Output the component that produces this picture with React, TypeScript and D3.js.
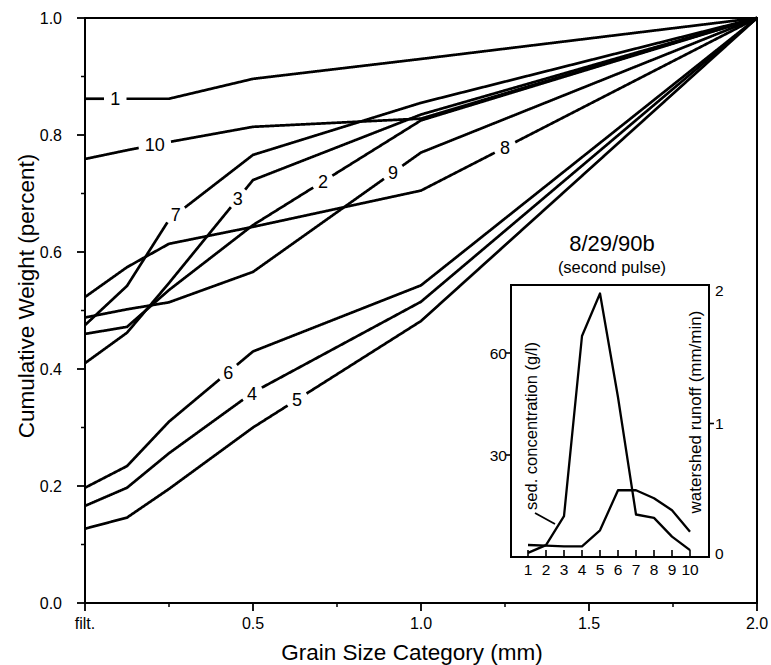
import React from 'react';
import * as d3 from 'd3';

// ---------- main chart data ----------
const grainSizes = [0, 0.125, 0.25, 0.5, 1.0, 2.0];
const sampleNames = ['1', '2', '3', '4', '5', '6', '7', '8', '9', '10'];
const sample1 = [0.862, 0.862, 0.862, 0.896, 0.93, 1.0];
const sample2 = [0.46, 0.472, 0.535, 0.646, 0.825, 1.0];
const sample3 = [0.41, 0.462, 0.547, 0.723, 0.835, 1.0];
const sample4 = [0.166, 0.197, 0.256, 0.36, 0.515, 1.0];
const sample5 = [0.127, 0.146, 0.195, 0.3, 0.482, 1.0];
const sample6 = [0.197, 0.234, 0.31, 0.43, 0.543, 1.0];
const sample7 = [0.475, 0.542, 0.655, 0.766, 0.855, 1.0];
const sample8 = [0.523, 0.574, 0.614, 0.643, 0.705, 1.0];
const sample9 = [0.488, 0.502, 0.514, 0.566, 0.77, 1.0];
const sample10 = [0.759, 0.774, 0.788, 0.814, 0.828, 1.0];
const samples = [sample1, sample2, sample3, sample4, sample5, sample6, sample7, sample8, sample9, sample10];
// grain size (x) at which each curve label sits
const labelAt = [0.09, 0.708, 0.455, 0.497, 0.631, 0.426, 0.27, 1.25, 0.917, 0.208];

const xMajor = [0, 0.5, 1, 1.5, 2];
const xMajorLabels = ['filt.', '0.5', '1.0', '1.5', '2.0'];
const xMinor = [0.25, 0.75, 1.25, 1.75];
const yMajor = [0, 0.2, 0.4, 0.6, 0.8, 1.0];
const yMajorLabels = ['0.0', '0.2', '0.4', '0.6', '0.8', '1.0'];
const yMinor = [0.1, 0.3, 0.5, 0.7, 0.9];

// ---------- inset data ----------
const pulseSamples = [1, 2, 3, 4, 5, 6, 7, 8, 9, 10];
const sedConcentration = [1.2, 3.5, 12, 65, 77.5, 47, 12.5, 11.5, 6, 2];
const watershedRunoff = [0.09, 0.085, 0.08, 0.08, 0.2, 0.5, 0.5, 0.44, 0.35, 0.19];
const sedTicks = [30, 60];
const runoffTicks = [0, 1, 2];

const FONT = 'Liberation Sans, Arial, Helvetica, sans-serif';

type Pt = [number, number];

function interp(xs: number[], ys: number[], v: number) {
  for (let i = 0; i < xs.length - 1; i++) {
    if (v >= xs[i] && v <= xs[i + 1]) {
      const t = (v - xs[i]) / (xs[i + 1] - xs[i]);
      return ys[i] + (ys[i + 1] - ys[i]) * t;
    }
  }
  return ys[ys.length - 1];
}

function gapRuns(pts: Pt[], cx: number, cy: number, r: number): Pt[][] {
  const runs: Pt[][] = [];
  let cur: Pt[] = [];
  for (let i = 0; i < pts.length - 1; i++) {
    const [x0, y0] = pts[i];
    const [x1, y1] = pts[i + 1];
    const len = Math.hypot(x1 - x0, y1 - y0);
    const n = Math.max(1, Math.ceil(len / 0.5));
    for (let k = i === 0 ? 0 : 1; k <= n; k++) {
      const t = k / n;
      const p: Pt = [x0 + (x1 - x0) * t, y0 + (y1 - y0) * t];
      if (Math.hypot(p[0] - cx, p[1] - cy) < r) {
        if (cur.length > 1) runs.push(cur);
        cur = [];
      } else cur.push(p);
    }
  }
  if (cur.length > 1) runs.push(cur);
  return runs;
}

export default function App() {
  const W = 771, H = 665;
  const x = d3.scaleLinear().domain([0, 2]).range([85, 757]);
  const y = d3.scaleLinear().domain([0, 1]).range([603, 18]);
  const line = d3.line<Pt>().x(d => d[0]).y(d => d[1]);

  const labelSize = 18;

  const curves = samples.map((vals, i) => {
    const pts: Pt[] = grainSizes.map((g, j) => [x(g), y(vals[j])]);
    const lx = x(labelAt[i]);
    const ly = y(interp(grainSizes, vals, labelAt[i]));
    const tw = sampleNames[i].length * 0.556 * labelSize;
    const runs = gapRuns(pts, lx, ly, tw / 2 + 6);
    return { runs, lx, ly, name: sampleNames[i] };
  });

  // inset scales
  const xi = d3.scaleLinear().domain([1, 10]).range([528, 690]);
  const yl = d3.scaleLinear().domain([0, 80]).range([557, 285]);
  const yr = d3.scaleLinear().domain([0, 2]).range([557, 290]);
  const box = { x0: 511, x1: 709, y0: 285, y1: 557 };
  const sedLine = d3.line<number>().x((_, i) => xi(pulseSamples[i])).y(d => yl(d));
  const runLine = d3.line<number>().x((_, i) => xi(pulseSamples[i])).y(d => yr(d));

  return (
    <svg width={W} height={H} style={{ position: 'absolute', left: 0, top: 0, background: '#fff' }} fontFamily={FONT}>
      <rect x={0} y={0} width={W} height={H} fill="#fff" />
      {/* frame */}
      <rect x={x(0)} y={y(1)} width={x(2) - x(0)} height={y(0) - y(1)} fill="none" stroke="#000" strokeWidth={2} />
      {/* x ticks */}
      {xMajor.map((t, i) => (
        <g key={'xm' + i}>
          <line x1={x(t)} x2={x(t)} y1={y(0)} y2={y(0) + 8} stroke="#000" strokeWidth={1.8} />
          <text x={x(t)} y={629} textAnchor="middle" fontSize={16}>{xMajorLabels[i]}</text>
        </g>
      ))}
      {xMinor.map((t, i) => (
        <line key={'xn' + i} x1={x(t)} x2={x(t)} y1={y(0)} y2={y(0) + 4} stroke="#000" strokeWidth={1.5} />
      ))}
      {/* y ticks */}
      {yMajor.map((t, i) => (
        <g key={'ym' + i}>
          <line x1={x(0) - 8} x2={x(0)} y1={y(t)} y2={y(t)} stroke="#000" strokeWidth={1.8} />
          <text x={62} y={y(t) + 5.5} textAnchor="end" fontSize={16}>{yMajorLabels[i]}</text>
        </g>
      ))}
      {yMinor.map((t, i) => (
        <line key={'yn' + i} x1={x(0) - 4} x2={x(0)} y1={y(t)} y2={y(t)} stroke="#000" strokeWidth={1.5} />
      ))}
      <text x={412} y={660} textAnchor="middle" fontSize={22.5}>Grain Size Category (mm)</text>
      <text transform={`translate(34,296) rotate(-90)`} textAnchor="middle" fontSize={22.5}>Cumulative Weight (percent)</text>

      {/* curves */}
      {curves.map((c, i) => (
        <g key={'c' + i}>
          {c.runs.map((r, k) => (
            <path key={k} d={line(r) || ''} fill="none" stroke="#000" strokeWidth={2.7} strokeLinejoin="round" strokeLinecap="butt" />
          ))}
          <text x={c.lx} y={c.ly} dy="0.36em" textAnchor="middle" fontSize={labelSize}>{c.name}</text>
        </g>
      ))}

      {/* inset */}
      <text x={612} y={251} textAnchor="middle" fontSize={22}>8/29/90b</text>
      <text x={612} y={273} textAnchor="middle" fontSize={16.5}>(second pulse)</text>
      <rect x={box.x0} y={box.y0} width={box.x1 - box.x0} height={box.y1 - box.y0} fill="#fff" stroke="#000" strokeWidth={2} />
      {pulseSamples.map((s, i) => (
        <g key={'pt' + i}>
          <line x1={xi(s)} x2={xi(s)} y1={box.y1} y2={box.y1 - 7} stroke="#000" strokeWidth={1.6} />
          <text x={xi(s)} y={575} textAnchor="middle" fontSize={15.5}>{s}</text>
        </g>
      ))}
      {sedTicks.map((t, i) => (
        <g key={'st' + i}>
          <line x1={box.x0 - 5} x2={box.x0} y1={yl(t)} y2={yl(t)} stroke="#000" strokeWidth={1.6} />
          <text x={507} y={yl(t) + 5.5} textAnchor="end" fontSize={15.5}>{t}</text>
        </g>
      ))}
      {runoffTicks.map((t, i) => (
        <g key={'rt' + i}>
          {t === 1 && <line x1={box.x1} x2={box.x1 + 5} y1={yr(t)} y2={yr(t)} stroke="#000" strokeWidth={1.6} />}
          <text x={715} y={(t === 0 ? yr(t) - 4 : yr(t)) + 5.5} textAnchor="start" fontSize={15.5}>{t}</text>
        </g>
      ))}
      <path d={sedLine(sedConcentration) || ''} fill="none" stroke="#000" strokeWidth={2.3} strokeLinejoin="round" />
      <path d={runLine(watershedRunoff) || ''} fill="none" stroke="#000" strokeWidth={2.3} strokeLinejoin="round" />
      <line x1={535} y1={513} x2={555} y2={524} stroke="#000" strokeWidth={1.8} />
      <text transform={`translate(537,426) rotate(-90)`} textAnchor="middle" fontSize={16.5}>sed. concentration (g/l)</text>
      <text transform={`translate(701,412) rotate(-90)`} textAnchor="middle" fontSize={17}>watershed runoff (mm/min)</text>
    </svg>
  );
}
